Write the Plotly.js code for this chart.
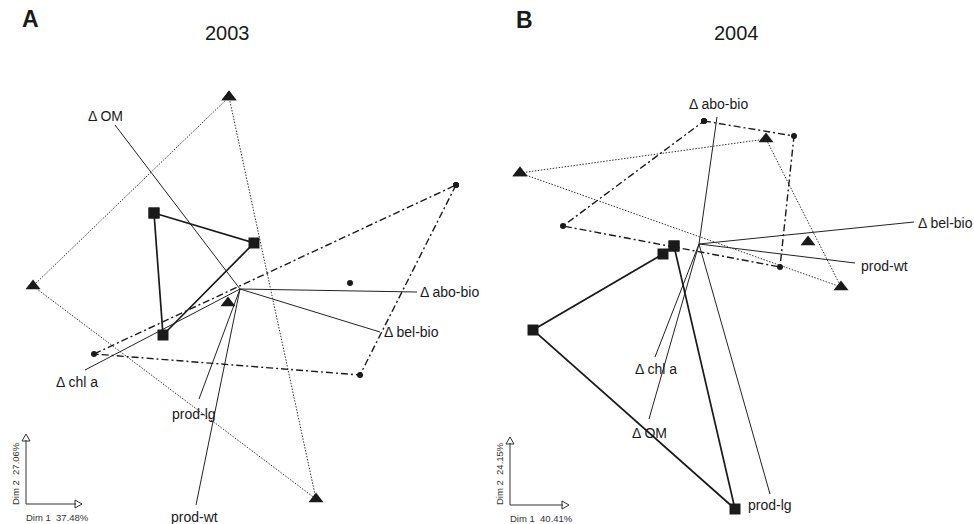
<!DOCTYPE html>
<html><head><meta charset="utf-8">
<script src="https://cdn.plot.ly/plotly-3.0.1.min.js"></script>
<style>html,body{margin:0;padding:0;background:#fff}#chart{width:974px;height:524px}</style>
</head><body><div id="chart"></div>
<script>
// ---------- Data: 2003 (panel A) ----------
const panelTitles = ["2003", "2004"];
const panelLetters = ["A", "B"];
const dimLabelsA = ["Dim 1  37.48%", "Dim 2  27.06%"];
const dimLabelsB = ["Dim 1  40.41%", "Dim 2  24.15%"];

const triA_x = [-0.11, -2.07, 0.76];
const triA_y = [1.92, 0.03, -2.10];
const triA_meanX = [-0.12];
const triA_meanY = [-0.14];
const sqA_x = [-0.86, 0.14, -0.77];
const sqA_y = [0.76, 0.46, -0.46];
const ciA_x = [2.16, 1.20, -1.46];
const ciA_y = [1.04, -0.86, -0.65];
const ciA_meanX = [1.10];
const ciA_meanY = [0.06];
const varA_names = ["Δ OM", "Δ abo-bio", "Δ bel-bio", "Δ chl a", "prod-lg", "prod-wt"];
const varA_x = [-1.25, 1.77, 1.40, -1.55, -0.41, -0.44];
const varA_y = [1.64, -0.03, -0.43, -0.81, -1.10, -2.16];

// ---------- Data: 2004 (panel B) ----------
const triB_x = [-1.79, 0.67, 1.42];
const triB_y = [0.71, 1.05, -0.43];
const triB_meanX = [1.09];
const triB_meanY = [0.02];
const ciB_x = [0.05, 0.95, 0.81, -1.36];
const ciB_y = [1.23, 1.08, -0.23, 0.18];
const sqB_x = [-0.25, 0.36, -1.66, -0.36];
const sqB_y = [-0.02, -2.65, -0.86, -0.10];
const varB_names = ["Δ abo-bio", "Δ bel-bio", "prod-wt", "Δ chl a", "Δ OM", "prod-lg"];
const varB_x = [0.18, 2.15, 1.56, -0.44, -0.50, 0.71];
const varB_y = [1.27, 0.22, -0.19, -1.13, -1.75, -2.50];

// ---------- Label placement (pixels) ----------
const placeA = {
  "Δ OM": ["center", -10, 9], "Δ abo-bio": ["left", 1, 0], "Δ bel-bio": ["left", 2, 0],
  "Δ chl a": ["center", -8, -12], "prod-lg": ["center", -5, -15], "prod-wt": ["center", -2, -12]
};
const placeB = {
  "Δ abo-bio": ["center", 1, 13], "Δ bel-bio": ["left", 2, -1], "prod-wt": ["left", 4, -3],
  "Δ chl a": ["center", 1, -12], "Δ OM": ["center", 0, -14], "prod-lg": ["center", 0, -11]
};

const INK = "#1a1a1a";
const FONT = "Liberation Sans, Arial, sans-serif";

function closed(a) { return a.concat([a[0]]); }
function spokes(xs, ys) {
  const X = [], Y = [];
  xs.forEach((v, i) => { X.push(0, v, null); Y.push(0, ys[i], null); });
  return [X, Y];
}

function panelTraces(ax, ay, tri, triMean, sq, ci, ciMean, vx, vy) {
  const t = [];
  const [sx, sy] = spokes(vx, vy);
  t.push({x: sx, y: sy, xaxis: ax, yaxis: ay, mode: "lines", line: {color: "#222", width: 1}, hoverinfo: "skip"});
  t.push({x: closed(tri[0]), y: closed(tri[1]), xaxis: ax, yaxis: ay, mode: "lines+markers",
    line: {color: "#333", width: 1, dash: "1.5px,1.5px"}, marker: {symbol: "triangle-up", size: 13, color: INK}});
  if (triMean) t.push({x: triMean[0], y: triMean[1], xaxis: ax, yaxis: ay, mode: "markers",
    marker: {symbol: "triangle-up", size: 13, color: INK}});
  t.push({x: closed(ci[0]), y: closed(ci[1]), xaxis: ax, yaxis: ay, mode: "lines+markers",
    line: {color: INK, width: 1.4, dash: "7px,3px,2px,3px"}, marker: {symbol: "circle", size: 6, color: INK}});
  if (ciMean) t.push({x: ciMean[0], y: ciMean[1], xaxis: ax, yaxis: ay, mode: "markers",
    marker: {symbol: "circle", size: 6, color: INK}});
  t.push({x: closed(sq[0]), y: closed(sq[1]), xaxis: ax, yaxis: ay, mode: "lines+markers",
    line: {color: INK, width: 1.7}, marker: {symbol: "square", size: 11, color: INK}});
  return t;
}

const traces = [].concat(
  panelTraces("x", "y", [triA_x, triA_y], [triA_meanX, triA_meanY], [sqA_x, sqA_y], [ciA_x, ciA_y], [ciA_meanX, ciA_meanY], varA_x, varA_y),
  panelTraces("x2", "y2", [triB_x, triB_y], [triB_meanX, triB_meanY], [sqB_x, sqB_y], [ciB_x, ciB_y], null, varB_x, varB_y)
);

const W = 974, H = 524;
const px = v => v / W, py = v => 1 - v / H;

const annotations = [];
function varLabels(names, xs, ys, place, xr, yr) {
  names.forEach((n, i) => {
    const p = place[n];
    annotations.push({x: xs[i], y: ys[i], xref: xr, yref: yr, text: n, showarrow: false,
      xanchor: p[0], yanchor: "middle", xshift: p[1], yshift: p[2],
      font: {family: FONT, size: 14, color: INK}});
  });
}
varLabels(varA_names, varA_x, varA_y, placeA, "x", "y");
varLabels(varB_names, varB_x, varB_y, placeB, "x2", "y2");

function paperText(text, x, y, size, opts) {
  annotations.push(Object.assign({text, x: px(x), y: py(y), xref: "paper", yref: "paper", showarrow: false,
    xanchor: "center", yanchor: "middle", font: {family: FONT, size, color: INK}}, opts || {}));
}
const smallFont = {family: FONT, size: 9.5, color: "#333"};
paperText(panelTitles[0], 227, 33, 20);
paperText(panelTitles[1], 736, 33, 20);
paperText("<b>" + panelLetters[0] + "</b>", 30, 19, 23);
paperText("<b>" + panelLetters[1] + "</b>", 524, 20, 23);
paperText(dimLabelsA[0], 24, 517, 9.5, {xanchor: "left", font: smallFont});
paperText(dimLabelsA[1], 15, 474, 9.5, {textangle: -90, font: smallFont});
paperText(dimLabelsB[0], 508, 518, 9.5, {xanchor: "left", font: smallFont});
paperText(dimLabelsB[1], 499, 473, 9.5, {textangle: -90, font: smallFont});

const shapes = [];
function miniAxes(ox, oy, top, right) {
  const ln = {color: "#333", width: 1};
  shapes.push({type: "line", xref: "paper", yref: "paper", x0: px(ox), y0: py(oy), x1: px(ox), y1: py(top + 6), line: ln});
  shapes.push({type: "line", xref: "paper", yref: "paper", x0: px(ox), y0: py(oy), x1: px(right - 6), y1: py(oy), line: ln});
  shapes.push({type: "path", xref: "paper", yref: "paper", line: ln, fillcolor: "rgba(0,0,0,0)",
    path: `M ${px(ox-4)},${py(top+7)} L ${px(ox)},${py(top)} L ${px(ox+4)},${py(top+7)} Z`});
  shapes.push({type: "path", xref: "paper", yref: "paper", line: ln, fillcolor: "rgba(0,0,0,0)",
    path: `M ${px(right-7)},${py(oy-4)} L ${px(right)},${py(oy)} L ${px(right-7)},${py(oy+4)} Z`});
}
miniAxes(26, 504, 434, 82);
miniAxes(510, 505, 437, 569);

const hidden = {visible: false, showgrid: false, zeroline: false, fixedrange: true};
const layout = {
  width: W, height: H, margin: {l: 0, r: 0, t: 0, b: 0},
  paper_bgcolor: "#fff", plot_bgcolor: "#fff", showlegend: false,
  xaxis: Object.assign({domain: [0, 0.5], range: [-2.40, 2.47]}, hidden),
  yaxis: Object.assign({domain: [0, 1], range: [-2.35, 2.89]}, hidden),
  xaxis2: Object.assign({domain: [0.5, 1], range: [-2.12, 2.75], anchor: "y2"}, hidden),
  yaxis2: Object.assign({domain: [0, 1], range: [-2.80, 2.44], anchor: "x2"}, hidden),
  annotations, shapes
};
Plotly.newPlot("chart", traces, layout, {staticPlot: true, displayModeBar: false});
</script></body></html>
